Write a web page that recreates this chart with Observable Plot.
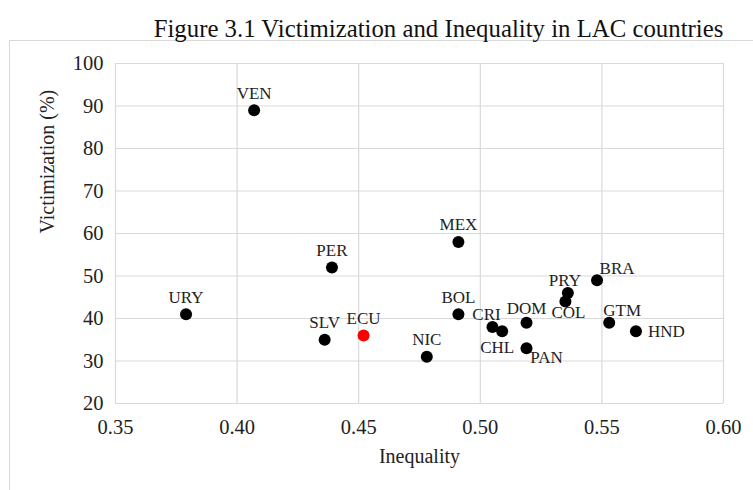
<!DOCTYPE html>
<html>
<head>
<meta charset="utf-8">
<script src="https://cdn.jsdelivr.net/npm/d3@7"></script>
<script src="https://cdn.jsdelivr.net/npm/@observablehq/plot@0.6"></script>
<style>
  html, body { margin: 0; padding: 0; background: #fff; overflow: hidden; }
  #wrap { position: relative; width: 753px; height: 490px; font-family: "Liberation Serif", "Times New Roman", serif; }
  #title { position: absolute; left: 0; top: 15px; width: 877px; text-align: center; font-size: 24.8px; line-height: 28px; color: #111; white-space: nowrap; }
  #frame { position: absolute; left: 9px; top: 40px; width: 800px; height: 500px; border-left: 1.5px solid #d9d9d9; border-top: 1.5px solid #d9d9d9; }
  #chart { position: absolute; left: 0; top: 40px; }
</style>
</head>
<body>
<div id="wrap">
  <div id="frame"></div>
  <div id="title">Figure 3.1 Victimization and Inequality in LAC countries</div>
  <div id="chart"></div>
</div>
<script>
const countries = ["URY","VEN","PER","SLV","ECU","NIC","BOL","MEX","CRI","CHL","DOM","PAN","PRY","COL","BRA","GTM","HND"];
const inequality = [0.379,0.407,0.439,0.436,0.452,0.478,0.491,0.491,0.505,0.509,0.519,0.519,0.536,0.535,0.548,0.553,0.564];
const victimization = [41,89,52,35,36,31,41,58,38,37,39,33,46,44,49,39,37];
const highlighted = ["ECU"];
const xTicks = [0.35,0.40,0.45,0.50,0.55,0.60];
const yTicks = [20,30,40,50,60,70,80,90,100];

// label placement (layout only)
const defaultPlacement = {dx: 0, dy: -17, anchor: "middle"};
const placement = {
  CRI: {dx: -6, dy: -12, anchor: "middle"},
  CHL: {dx: -5, dy: 16, anchor: "middle"},
  DOM: {dx: 0, dy: -14, anchor: "middle"},
  PAN: {dx: 20, dy: 9, anchor: "middle"},
  PRY: {dx: -3, dy: -12, anchor: "middle"},
  COL: {dx: 3, dy: 11, anchor: "middle"},
  BRA: {dx: 20, dy: -12, anchor: "middle"},
  GTM: {dx: 13, dy: -12, anchor: "middle"},
  HND: {dx: 12, dy: 0, anchor: "start"}
};

const data = countries.map((c, i) => ({
  country: c,
  x: inequality[i],
  y: victimization[i],
  hl: highlighted.includes(c)
}));

const fontFam = "Liberation Serif, Times New Roman, serif";
const marks = [
  Plot.gridX(xTicks, {stroke: "#d9d9d9", strokeOpacity: 1, strokeWidth: 1.2}),
  Plot.gridY(yTicks, {stroke: "#d9d9d9", strokeOpacity: 1, strokeWidth: 1.2}),
  Plot.axisX(xTicks, {tickSize: 0, tickPadding: 16, tickFormat: d3.format(".2f"), fontSize: 20.5, fill: "#222", label: null}),
  Plot.axisY(yTicks, {tickSize: 0, tickPadding: 12, fontSize: 20.5, fill: "#222", label: null}),
  Plot.text(["Inequality"], {frameAnchor: "bottom", dy: 59, fontSize: 20, fill: "#222"}),
  Plot.text(["Victimization (%)"], {frameAnchor: "left", dx: -68, rotate: -90, fontSize: 20, fill: "#222"}),
  Plot.dot(data, {x: "x", y: "y", r: 6, fill: d => d.hl ? "#ff0000" : "#000", stroke: "none"}),
  ...data.map(d => {
    const p = placement[d.country] || defaultPlacement;
    return Plot.text([d], {x: "x", y: "y", text: "country", dx: p.dx, dy: p.dy, textAnchor: p.anchor, fontSize: 17, fill: "#222"});
  })
];
const chart = Plot.plot({
  width: 753,
  height: 450,
  marginTop: 23,
  marginBottom: 87,
  marginLeft: 115,
  marginRight: 30,
  style: {fontFamily: fontFam, fontSize: "20px", background: "transparent", overflow: "visible"},
  x: {domain: [0.35, 0.60]},
  y: {domain: [20, 100]},
  marks
});
document.getElementById("chart").appendChild(chart);
</script>
</body>
</html>
